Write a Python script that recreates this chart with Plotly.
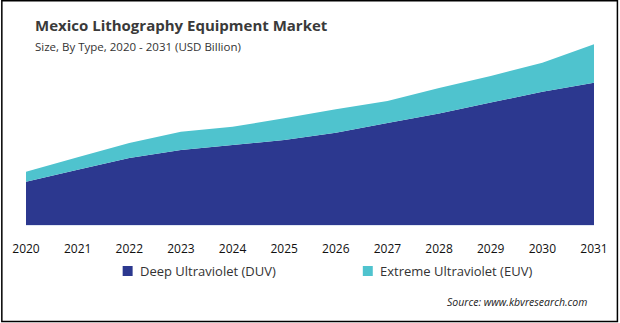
import plotly.graph_objects as go

years = [2020, 2021, 2022, 2023, 2024, 2025, 2026, 2027, 2028, 2029, 2030, 2031]
duv = [0.433, 0.553, 0.670, 0.750, 0.800, 0.850, 0.923, 1.020, 1.115, 1.225, 1.333, 1.423]
euv = [0.100, 0.125, 0.150, 0.183, 0.183, 0.217, 0.234, 0.220, 0.255, 0.265, 0.290, 0.384]
tick_labels = [str(y) for y in years]

W, H = 620, 323
ML, MR, MT, MB = 25, 25, 40, 98
PW, PH = W - ML - MR, H - MT - MB

def px(x):
    return (x - ML) / PW

def py(y):
    return (H - MB - y) / PH

DUV_C = "#2c388f"
EUV_C = "#4fc3ce"
FONT = "Open Sans"

fig = go.Figure()
fig.add_trace(go.Scatter(x=years, y=duv, stackgroup="a", mode="none",
                         fillcolor=DUV_C, name="Deep Ultraviolet (DUV)", showlegend=False))
fig.add_trace(go.Scatter(x=years, y=euv, stackgroup="a", mode="none",
                         fillcolor=EUV_C, name="Extreme Ultraviolet (EUV)", showlegend=False))

fig.update_layout(
    width=W, height=H,
    margin=dict(l=ML, r=MR, t=MT, b=MB),
    paper_bgcolor="white", plot_bgcolor="white",
    showlegend=False,
    xaxis=dict(range=[2020, 2031], tickvals=years, ticktext=tick_labels,
               showgrid=False, zeroline=False, showline=True, linecolor="#dfe6f3", linewidth=1,
               ticks="", ticklabelstandoff=13,
               tickfont=dict(family=FONT, size=12, color="#111111")),
    yaxis=dict(range=[0, 1.85], visible=False, showgrid=False),
)

annotations = [
    dict(text="<b>Mexico Lithography Equipment Market</b>", x=px(32), y=py(25),
         xanchor="left", yanchor="middle", font=dict(family=FONT, size=15, color="#3a3a3a")),
    dict(text="Size, By Type, 2020 - 2031 (USD Billion)", x=px(32), y=py(47),
         xanchor="left", yanchor="middle", font=dict(family=FONT, size=11.5, color="#333333")),
    dict(text="Deep Ultraviolet (DUV)", x=px(137), y=py(271),
         xanchor="left", yanchor="middle", font=dict(family=FONT, size=13, color="#333333")),
    dict(text="Extreme Ultraviolet (EUV)", x=px(378), y=py(271),
         xanchor="left", yanchor="middle", font=dict(family=FONT, size=13, color="#333333")),
    dict(text="<i>Source: www.kbvresearch.com</i>", x=px(590), y=py(302),
         xanchor="right", yanchor="middle", font=dict(family=FONT, size=10.5, color="#222222")),
]
for a in annotations:
    a.update(xref="paper", yref="paper", showarrow=False)
fig.update_layout(annotations=annotations)

shapes = [
    dict(type="rect", x0=px(122), x1=px(132), y0=py(266), y1=py(276), fillcolor=DUV_C, line=dict(width=0)),
    dict(type="rect", x0=px(363), x1=px(373), y0=py(266), y1=py(276), fillcolor=EUV_C, line=dict(width=0)),
    dict(type="rect", x0=px(0.75), x1=px(618.5), y0=py(0.75), y1=py(321.5),
         line=dict(color="#000000", width=1.5), fillcolor="rgba(0,0,0,0)"),
]
for s in shapes:
    s.update(xref="paper", yref="paper", layer="above")
fig.update_layout(shapes=shapes)

fig.write_html("out.html")
